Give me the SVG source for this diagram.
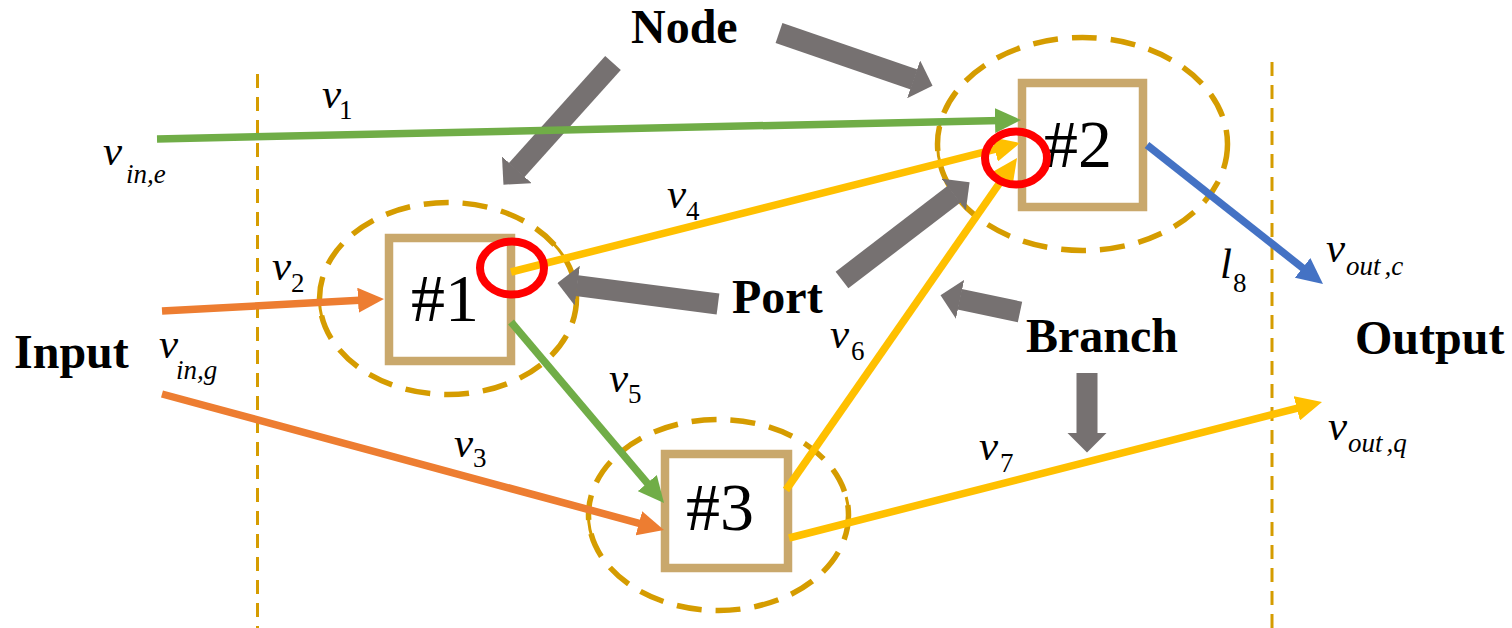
<svg xmlns="http://www.w3.org/2000/svg" width="1512" height="628" viewBox="0 0 1512 628">
  <defs>
    <style>
      .bound{fill:none;stroke:#D59C00;stroke-width:3;stroke-dasharray:14 9}
      .zone{fill:none;stroke:#D59C00;stroke-width:5.5;stroke-dasharray:25 14}
      .zone-arc{fill:none;stroke:#D59C00;stroke-width:3}
      .box{fill:#fff;stroke:#C9A86C;stroke-width:8.5}
      .id{font-family:"Liberation Serif","Times New Roman",serif;font-size:68px;fill:#000}
      .port{fill:none;stroke:#FF0000;stroke-width:8}
      .call{stroke:#767171;stroke-width:21;fill:none;marker-end:url(#hGray)}
      .title{font-family:"Liberation Serif","Times New Roman",serif;font-weight:bold;font-size:48px;fill:#000}
      .var{font-family:"Liberation Serif","Times New Roman",serif;font-style:italic;font-size:43px;fill:#000}
      .sub{font-size:27px}
      .num{font-style:normal}
      .e{fill:none;stroke-width:7.5}
      .green{stroke:#70AD47;marker-end:url(#hGreen)}
      .orange{stroke:#ED7D31;marker-end:url(#hOrange)}
      .yellow{stroke:#FFC000;marker-end:url(#hYellow)}
      .blue{stroke:#4472C4;marker-end:url(#hBlue)}
    </style>
    <marker id="hGreen" markerUnits="userSpaceOnUse" markerWidth="26" markerHeight="25" viewBox="0 0 26 25" refX="6" refY="12.5" orient="auto">
      <path d="M0,0 L26,12.5 L0,25 z" fill="#70AD47"/>
    </marker>
    <marker id="hOrange" markerUnits="userSpaceOnUse" markerWidth="26" markerHeight="25" viewBox="0 0 26 25" refX="6" refY="12.5" orient="auto">
      <path d="M0,0 L26,12.5 L0,25 z" fill="#ED7D31"/>
    </marker>
    <marker id="hYellow" markerUnits="userSpaceOnUse" markerWidth="26" markerHeight="25" viewBox="0 0 26 25" refX="6" refY="12.5" orient="auto">
      <path d="M0,0 L26,12.5 L0,25 z" fill="#FFC000"/>
    </marker>
    <marker id="hBlue" markerUnits="userSpaceOnUse" markerWidth="26" markerHeight="25" viewBox="0 0 26 25" refX="6" refY="12.5" orient="auto">
      <path d="M0,0 L26,12.5 L0,25 z" fill="#4472C4"/>
    </marker>
    <marker id="hGray" markerUnits="userSpaceOnUse" markerWidth="20" markerHeight="40" viewBox="0 0 20 40" refX="0.5" refY="20" orient="auto">
      <path d="M0,0 L20,20 L0,40 z" fill="#767171"/>
    </marker>
  </defs>

  <rect width="1512" height="628" fill="#fff"/>

  <!-- input / output boundaries -->
  <g id="boundaries">
    <line class="bound" x1="257.5" y1="74" x2="257.5" y2="628"/>
    <line class="bound" x1="1272" y1="62" x2="1272" y2="628"/>
  </g>

  <!-- nodes: dashed zone, box and number -->
  <g id="node1">
    <ellipse class="zone" cx="448" cy="298.5" rx="128.5" ry="96"/>
    <path class="zone-arc" d="M322.8,277 A128.5,96 0 0 0 325.7,328"/>
    <path class="zone-arc" d="M552.9,243 A128.5,96 0 0 1 576.4,303"/>
    <rect class="box" x="389" y="238" width="122" height="123"/>
    <text class="id" x="411" y="321">#1</text>
  </g>
  <g id="node2">
    <ellipse class="zone" cx="1082.5" cy="144" rx="145" ry="106.5"/>
    <path class="zone-arc" d="M940.3,123 A145,106.5 0 0 0 941,167"/>
    <rect class="box" x="1022" y="83" width="121" height="124"/>
    <text class="id" x="1044" y="167">#2</text>
  </g>
  <g id="node3">
    <ellipse class="zone" cx="718.5" cy="515" rx="130" ry="95.5"/>
    <path class="zone-arc" d="M590.1,500 A130,95.5 0 0 0 594.2,543"/>
    <path class="zone-arc" d="M846.2,497 A130,95.5 0 0 1 848.2,522"/>
    <rect class="box" x="665" y="454" width="123" height="114"/>
    <text class="id" x="686" y="530">#3</text>
  </g>

  <!-- callout arrows -->
  <g id="callouts">
    <line class="call" x1="613" y1="63" x2="516.5" y2="170.2"/>
    <line class="call" x1="779" y1="33" x2="914.1" y2="79.5"/>
    <line class="call" x1="718" y1="304" x2="576.8" y2="285.6"/>
    <line class="call" x1="842" y1="280" x2="954.1" y2="194.2"/>
    <line class="call" x1="1020" y1="312" x2="959.6" y2="299.2"/>
    <line class="call" x1="1087" y1="373" x2="1087" y2="433"/>
  </g>

  <!-- flow connectors -->
  <g id="connectors">
    <line class="e green" x1="157" y1="139" x2="1001" y2="120.4"/>
    <line class="e orange" x1="162" y1="311" x2="364" y2="300"/>
    <line class="e orange" x1="162" y1="394" x2="644.7" y2="524.8"/>
    <line class="e yellow" x1="511" y1="272" x2="1000.6" y2="147.9"/>
    <line class="e green" x1="511" y1="322" x2="651.1" y2="487.7"/>
    <line class="e yellow" x1="786" y1="490" x2="1005.6" y2="174.4"/>
    <line class="e yellow" x1="789" y1="538" x2="1302.6" y2="406.9"/>
    <line class="e blue" x1="1147" y1="145" x2="1307.3" y2="271.6"/>
  </g>

  <!-- ports -->
  <g id="ports">
    <ellipse class="port" cx="512" cy="268" rx="32" ry="26.5"/>
    <ellipse class="port" cx="1016" cy="158" rx="31" ry="26.5"/>
  </g>

  <!-- titles -->
  <g id="titles">
    <text class="title" x="631" y="43">Node</text>
    <text class="title" x="14" y="368">Input</text>
    <text class="title" x="732" y="313">Port</text>
    <text class="title" x="1026" y="352">Branch</text>
    <text class="title" x="1355" y="354">Output</text>
  </g>

  <!-- variable labels -->
  <g id="labels">
    <text class="var" x="103" y="165">v<tspan class="sub" x="126" y="183">in,e</tspan></text>
    <text class="var" x="159" y="358">v<tspan class="sub" x="176" y="379">in,g</tspan></text>
    <text class="var" x="1326" y="262">v<tspan class="sub" x="1346" y="275">out<tspan dx="4">,c</tspan></tspan></text>
    <text class="var" x="1328" y="440">v<tspan class="sub" x="1348" y="452">out<tspan dx="4">,q</tspan></tspan></text>
    <text class="var" x="322" y="108">v<tspan class="sub num" x="339" y="119">1</tspan></text>
    <text class="var" x="272" y="280">v<tspan class="sub num" x="291" y="292">2</tspan></text>
    <text class="var" x="454" y="457">v<tspan class="sub num" x="473" y="467">3</tspan></text>
    <text class="var" x="667" y="208">v<tspan class="sub num" x="686" y="220">4</tspan></text>
    <text class="var" x="609" y="392">v<tspan class="sub num" x="628" y="403">5</tspan></text>
    <text class="var" x="830" y="348">v<tspan class="sub num" x="851" y="360">6</tspan></text>
    <text class="var" x="979" y="460">v<tspan class="sub num" x="1000" y="472">7</tspan></text>
    <text class="var" x="1220" y="278">l<tspan class="sub num" x="1233" y="292">8</tspan></text>
  </g>
</svg>
